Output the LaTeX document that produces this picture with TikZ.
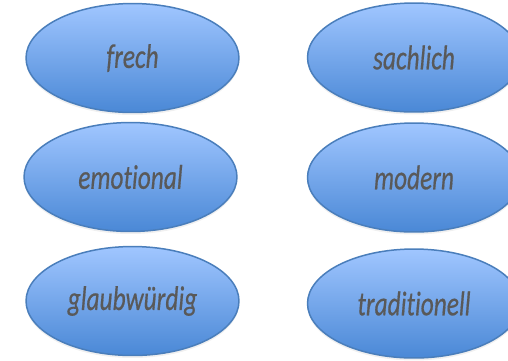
\documentclass[tikz,border=0pt]{standalone}
\usepackage{fontspec}
\setmainfont[Ligatures={NoCommon},ItalicFeatures={FakeBold=0.6}]{Carlito}
\usepackage{xcolor}
\usetikzlibrary{shapes.geometric}
\usetikzlibrary{shadows}
\usetikzlibrary{math}

\definecolor{ovaltop}{HTML}{A0C6FF}
\definecolor{ovalbottom}{HTML}{4A88D6}
\definecolor{ovalline}{HTML}{4A7EBB}
\definecolor{wordgray}{HTML}{595959}

\newcommand{\narrowword}[1]{\scalebox{0.74}[1]{#1}}

\begin{document}
\begin{tikzpicture}[x=0.02cm,y=-0.02cm,
  oval/.style={ellipse, draw=ovalline, line width=0.03cm,
    top color=ovaltop, bottom color=ovalbottom,
    minimum width=4.26cm, minimum height=2.18cm, inner sep=0pt,
    drop shadow={opacity=0.12, shadow xshift=0cm, shadow yshift=-0.05cm},
    font=\fontsize{19.5}{22}\selectfont\itshape, text=wordgray}]

  \tikzmath{
    \colleft  = 132.5; % centre of left column
    \colright = 414;   % centre of right column
  }

  % frame of the picture
  \useasboundingbox (0,0) rectangle (508,360);

  % left column
  \node[oval] (frech)     at (\colleft, 58)  {\narrowword{frech}};
  \node[oval] (emotional) at (130.5, 177)    {\narrowword{emotional}};
  \node[oval] (glaub)     at (\colleft, 301) {\narrowword{glaubwürdig}};

  % right column
  \node[oval] (sachlich)  at (\colright, 57.5)  {\narrowword{sachlich}};
  \node[oval] (modern)    at (\colright, 177.5) {\narrowword{modern}};
  \node[oval] (tradition) at (\colright, 303.5) {\narrowword{traditionell}};

\end{tikzpicture}
\end{document}
